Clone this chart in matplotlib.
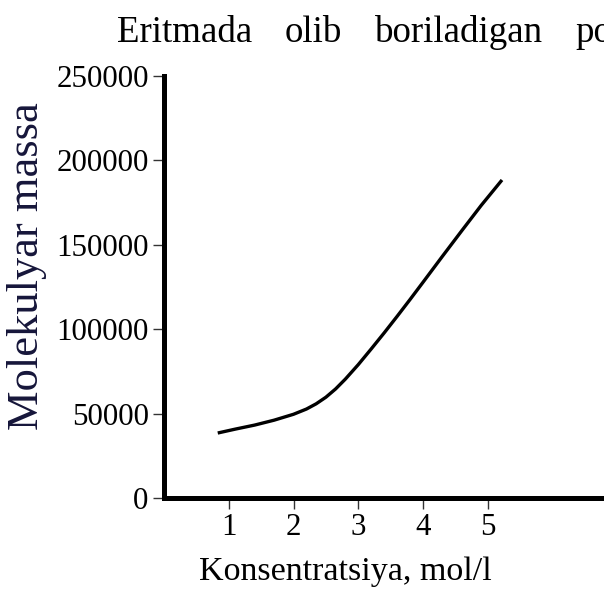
import matplotlib
matplotlib.use("Agg")
import matplotlib.pyplot as plt

# Molecular mass of the polymer versus solution concentration
concentration = [0.83, 1.1, 1.4, 1.7, 2.0, 2.2, 2.35, 2.5, 2.65, 2.8, 3.0, 3.2,
                 3.4, 3.6, 3.8, 4.0, 4.3, 4.6, 4.9, 5.22]
mol_mass = [38500, 40800, 43200, 46100, 49600, 52700, 55800, 59700, 64600,
            70400, 79000, 88300, 97800, 107600, 117600, 127800, 143200,
            158400, 173400, 188400]

x_ticks = [1, 2, 3, 4, 5]
y_ticks = [0, 50000, 100000, 150000, 200000, 250000]

heading_words = ["Eritmada", "olib", "boriladigan", "po"]
heading_x_px = [117, 285, 375, 575]

W, H = 604, 591
plt.rcParams["font.family"] = ["Liberation Serif", "DejaVu Serif"]

fig = plt.figure(figsize=(W / 100, H / 100), dpi=100)
ax = fig.add_axes([164 / W, (H - 498) / H, (W - 164) / W, 422 / H])

ax.plot(concentration, mol_mass, color="black", lw=2.4,
        solid_capstyle="butt", solid_joinstyle="round")

ax.set_xlim(0, (W - 164) / 64.75)
ax.set_ylim(0, 250000)
ax.set_xticks(x_ticks)
ax.set_yticks(y_ticks)
ax.set_xticklabels([str(t) for t in x_ticks])
ax.set_yticklabels([str(t) for t in y_ticks])

for side in ("top", "right"):
    ax.spines[side].set_visible(False)
for side in ("left", "bottom"):
    ax.spines[side].set_linewidth(3.6)
    ax.spines[side].set_color("black")
    ax.spines[side].set_capstyle("projecting")

ax.tick_params(axis="both", direction="out", length=8, width=1.0,
               color="#333333", labelsize=22.3, pad=3)
ax.tick_params(axis="x", pad=2.5)

fig.text(27 / W, 1 - 266 / H, "Molekulyar massa", rotation=90,
         ha="center", va="center", fontsize=32, color="#16163a")
fig.text(345 / W, 1 - 572 / H, "Konsentratsiya, mol/l",
         ha="center", va="center", fontsize=24.5)

for word, xp in zip(heading_words, heading_x_px):
    fig.text(xp / W, 1 - 42 / H, word, ha="left", va="baseline", fontsize=26.6)

fig.savefig("out.png", dpi=100)
